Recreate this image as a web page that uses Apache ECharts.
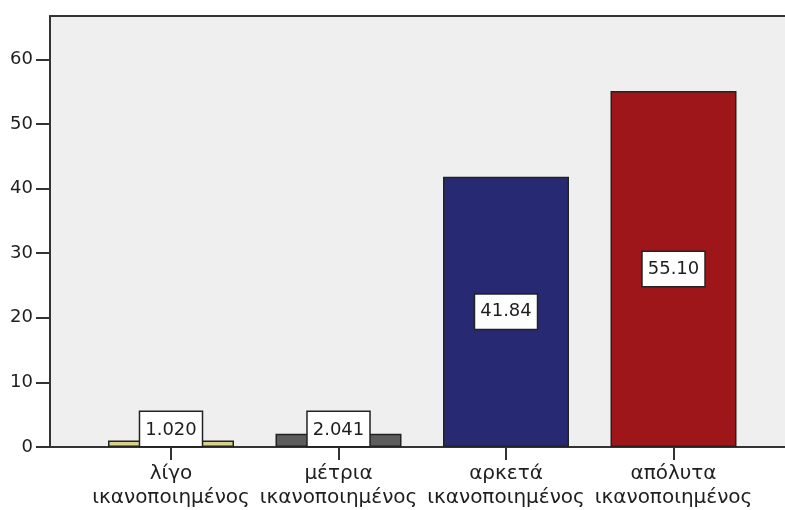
<!DOCTYPE html>
<html>
<head>
<meta charset="utf-8">
<script src="https://cdn.jsdelivr.net/npm/echarts@6/dist/echarts.min.js"></script>
<style>
html,body{margin:0;padding:0;background:#fff;}
#chart{width:785px;height:510px;}
</style>
</head>
<body>
<div id="chart"></div>
<script>
var categories = ['λίγο\nικανοποιημένος', 'μέτρια\nικανοποιημένος', 'αρκετά\nικανοποιημένος', 'απόλυτα\nικανοποιημένος'];
var values = [1.020, 2.041, 41.84, 55.10];
var valueLabels = ['1.020', '2.041', '41.84', '55.10'];
var barColors = ['#d6d28c', '#5c5c5c', '#272a72', '#9f161a'];
var yTicks = [0, 10, 20, 30, 40, 50, 60];

var FONT = 'DejaVu Sans';
var TXT = '#1e1e1e';
var LINE = '#333';
var YMAX = 66.7;

var data = values.map(function (v, i) {
  var small = v < 10;
  return {
    value: v,
    itemStyle: { color: barColors[i] },
    label: small ? { position: 'insideBottom', distance: 1 } : { position: 'inside' }
  };
});

var chart = echarts.init(document.getElementById('chart'), null, { renderer: 'canvas' });
chart.setOption({
  animation: false,
  backgroundColor: '#ffffff',
  grid: [
    { left: 50, right: 0, top: 16, bottom: 63, show: true, backgroundColor: '#efefef', borderWidth: 0 },
    { left: 87.25, right: 27.75, top: 16, bottom: 63 }
  ],
  xAxis: [
    { gridIndex: 0, type: 'value', min: 0, max: 1, position: 'bottom',
      axisLine: { show: true, lineStyle: { color: LINE, width: 2 } },
      axisTick: { show: false }, axisLabel: { show: false }, splitLine: { show: false } },
    { gridIndex: 0, type: 'value', min: 0, max: 1, position: 'top',
      axisLine: { show: true, lineStyle: { color: LINE, width: 2 } },
      axisTick: { show: false }, axisLabel: { show: false }, splitLine: { show: false } },
    { gridIndex: 1, type: 'category', data: categories, position: 'bottom',
      axisLine: { show: false },
      axisTick: { show: true, alignWithLabel: true, length: 13, lineStyle: { color: LINE, width: 2 } },
      axisLabel: { interval: 0, margin: 15, fontFamily: FONT, fontSize: 20, lineHeight: 24, color: TXT },
      splitLine: { show: false } }
  ],
  yAxis: [
    { gridIndex: 0, type: 'value', min: 0, max: YMAX,
      axisLine: { show: true, lineStyle: { color: LINE, width: 2 } },
      axisTick: { show: true, length: 14, customValues: yTicks, lineStyle: { color: LINE, width: 2 } },
      axisLabel: { margin: 17, fontFamily: FONT, fontSize: 18, color: TXT, customValues: yTicks },
      splitLine: { show: false } },
    { gridIndex: 1, type: 'value', min: 0, max: YMAX, show: false }
  ],
  series: [{
    type: 'bar',
    xAxisIndex: 2,
    yAxisIndex: 1,
    barWidth: 126,
    data: data,
    itemStyle: { borderColor: '#222', borderWidth: 1.5 },
    label: {
      show: true,
      formatter: function (p) { return valueLabels[p.dataIndex]; },
      fontFamily: FONT, fontSize: 18, lineHeight: 22, color: TXT,
      backgroundColor: '#ffffff', borderColor: '#222', borderWidth: 1.5,
      padding: [7, 5, 5, 5]
    }
  }]
});
</script>
</body>
</html>
